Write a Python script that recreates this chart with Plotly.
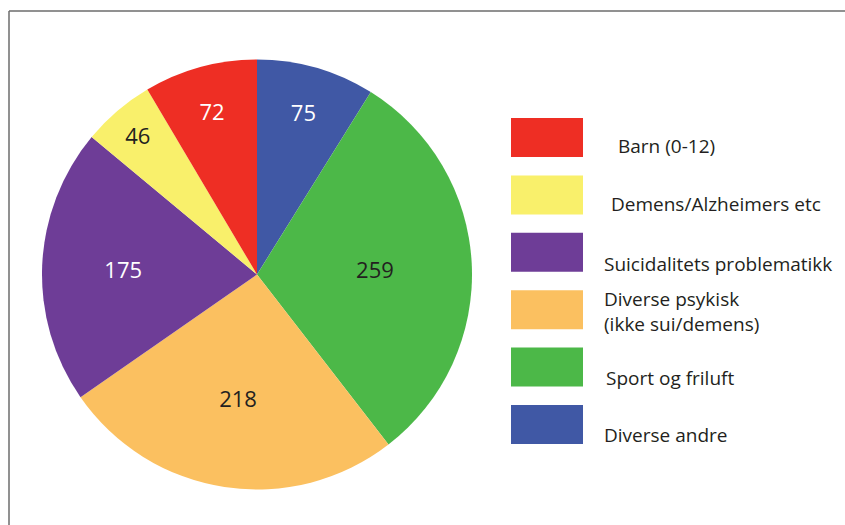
import plotly.graph_objects as go

# Data (pie order clockwise from 12 o'clock)
categories = ["Diverse andre", "Sport og friluft", "Diverse psykisk (ikke sui/demens)",
              "Suicidalitets problematikk", "Demens/Alzheimers etc", "Barn (0-12)"]
values = [75, 259, 218, 175, 46, 72]
colors = ["#4058A5", "#4CB848", "#FBC060", "#6E3D97", "#F9F06B", "#EE2E24"]
text_colors = ["white", "#231F20", "#231F20", "white", "#231F20", "white"]

# Legend (top to bottom)
legend_labels = ["Barn (0-12)", "Demens/Alzheimers etc", "Suicidalitets problematikk",
                 "Diverse psykisk<br>(ikke sui/demens)", "Sport og friluft", "Diverse andre"]
legend_colors = ["#EE2E24", "#F9F06B", "#6E3D97", "#FBC060", "#4CB848", "#4058A5"]

W, H = 845, 525

fig = go.Figure()
fig.add_trace(go.Pie(
    labels=categories,
    values=values,
    sort=False,
    direction="clockwise",
    rotation=0,
    marker=dict(colors=colors, line=dict(width=0)),
    textinfo="value",
    textposition="inside",
    insidetextorientation="horizontal",
    insidetextfont=dict(family="Open Sans", size=22, color=text_colors),
    showlegend=False,
    hoverinfo="label+value",
    domain=dict(x=[42 / W, 472 / W], y=[1 - 490 / H, 1 - 59 / H]),
))

shapes = []
annotations = []


def px(x):
    return x / W


def py(y):
    return 1 - y / H


# Frame lines (top and left)
shapes.append(dict(type="line", xref="paper", yref="paper", x0=px(9), x1=1.0, y0=py(11), y1=py(11),
                   line=dict(color="#6d6d6d", width=1.5)))
shapes.append(dict(type="line", xref="paper", yref="paper", x0=px(9), x1=px(9), y0=py(11), y1=0,
                   line=dict(color="#6d6d6d", width=1.5)))

box_x0, box_x1 = 511, 583
box_top0, box_step, box_h = 118, 57.4, 39
text_dx = [616, 609, 602, 602, 604, 602]
text_dy = [9, 9, 12, 2, 11, 10]
for i, (lab, col) in enumerate(zip(legend_labels, legend_colors)):
    top = box_top0 + i * box_step
    shapes.append(dict(type="rect", xref="paper", yref="paper",
                       x0=px(box_x0), x1=px(box_x1), y0=py(top + box_h), y1=py(top),
                       fillcolor=col, line=dict(width=0)))
    annotations.append(dict(xref="paper", yref="paper", x=px(text_dx[i]),
                            y=py(top + box_h / 2 + text_dy[i]),
                            xanchor="left", yanchor="middle", align="left",
                            text=lab, showarrow=False,
                            font=dict(family="Open Sans", size=19, color="#231F20")))

fig.update_layout(
    width=W, height=H,
    margin=dict(l=0, r=0, t=0, b=0),
    paper_bgcolor="white",
    plot_bgcolor="white",
    shapes=shapes,
    annotations=annotations,
)

fig.write_html("out.html", config={"displayModeBar": False},
               post_script="document.body.style.margin='0';document.body.style.overflow='hidden';")
